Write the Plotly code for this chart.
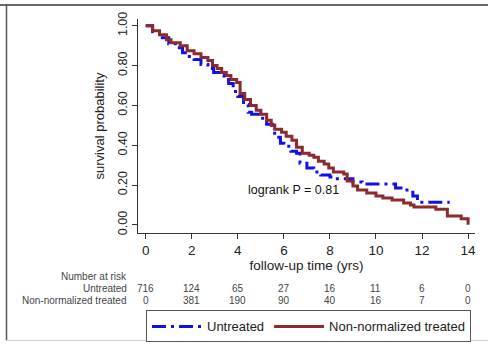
import plotly.graph_objects as go

# ---- data ----
untreated_t = [0, 0.3, 0.6, 1.0, 1.35, 1.6, 1.8, 2.1, 2.4, 2.7, 2.95, 3.2, 3.4, 3.6, 3.8, 4.0,
               4.25, 4.45, 4.6, 4.95, 5.25, 5.5, 5.6, 5.85, 6.0, 6.3, 6.55, 6.7, 7.0, 7.3,
               7.6, 8.0, 8.2, 8.75, 9.0, 9.4, 10.65, 10.85, 11.2, 11.6, 11.8, 13.2]
untreated_s = [1.0, 0.97, 0.94, 0.91, 0.89, 0.865, 0.845, 0.83, 0.805, 0.785, 0.765, 0.75, 0.73,
               0.71, 0.67, 0.645, 0.605, 0.565, 0.555, 0.535, 0.505, 0.50, 0.44, 0.41, 0.395,
               0.37, 0.36, 0.31, 0.285, 0.265, 0.25, 0.24, 0.232, 0.232, 0.215, 0.205, 0.205,
               0.185, 0.175, 0.145, 0.114, 0.114]

treated_t = [0, 0.3, 0.6, 0.9, 1.1, 1.5, 1.8, 2.1, 2.4, 2.7, 2.9, 3.1, 3.3, 3.5, 3.7, 3.95,
             4.1, 4.3, 4.55, 4.8, 5.0, 5.25, 5.45, 5.6, 5.9, 6.1, 6.35, 6.55, 6.8, 7.1, 7.3,
             7.5, 7.75, 7.95, 8.15, 8.6, 8.75, 9.0, 9.2, 9.6, 10.0, 10.3, 10.7, 11.2, 11.5,
             11.65, 12.6, 13.1, 13.7, 14.0]
treated_s = [1.0, 0.975, 0.955, 0.93, 0.915, 0.9, 0.875, 0.86, 0.84, 0.825, 0.80, 0.785, 0.765,
             0.75, 0.73, 0.715, 0.66, 0.63, 0.60, 0.575, 0.555, 0.525, 0.50, 0.48, 0.465, 0.445,
             0.425, 0.39, 0.36, 0.35, 0.34, 0.32, 0.305, 0.285, 0.265, 0.255, 0.22, 0.195,
             0.175, 0.16, 0.145, 0.135, 0.125, 0.11, 0.10, 0.09, 0.078, 0.045, 0.03, 0.0]

risk_times = [0, 2, 4, 6, 8, 10, 12, 14]
risk_untreated = [716, 124, 65, 27, 16, 11, 6, 0]
risk_treated = [0, 381, 190, 90, 40, 16, 7, 0]

x_ticks = [0, 2, 4, 6, 8, 10, 12, 14]
y_ticks = [0, 0.2, 0.4, 0.6, 0.8, 1.0]
y_ticklabels = ["0.00", "0.20", "0.40", "0.60", "0.80", "1.00"]

series_names = ["Untreated", "Non-normalized treated"]
pvalue_text = "logrank P = 0.81"

# ---- layout helpers (pixel -> paper) ----
L, R, T, B = 138, 13, 17, 116
W, H = 488, 354
PW, PH = W - L - R, H - T - B


def pxx(x):
    return (x - L) / PW


def pxy(y):
    return (H - B - y) / PH


FONT = "Liberation Sans, Arial, sans-serif"

fig = go.Figure()
fig.add_trace(go.Scatter(
    x=untreated_t, y=untreated_s, mode="lines", line_shape="hv", name=series_names[0],
    line=dict(color="#1010e8", width=3, dash="14px,5px,3px,5px")))
fig.add_trace(go.Scatter(
    x=treated_t, y=treated_s, mode="lines", line_shape="hv", name=series_names[1],
    line=dict(color="#8c2a2e", width=3)))

annotations = [
    dict(x=6.4, y=0.177, xref="x", yref="y", text=pvalue_text, showarrow=False,
         font=dict(size=12.5, color="#111", family=FONT)),
    dict(x=pxx(129), y=pxy(283), xref="paper", yref="paper", text="Number at risk",
         showarrow=False, xanchor="right", yanchor="middle",
         font=dict(size=10, color="#444", family=FONT)),
    dict(x=pxx(129), y=pxy(295), xref="paper", yref="paper", text=series_names[0],
         showarrow=False, xanchor="right", yanchor="middle",
         font=dict(size=10, color="#444", family=FONT)),
    dict(x=pxx(129), y=pxy(308), xref="paper", yref="paper", text=series_names[1],
         showarrow=False, xanchor="right", yanchor="middle",
         font=dict(size=10, color="#444", family=FONT)),
]
for t, a, b in zip(risk_times, risk_untreated, risk_treated):
    annotations.append(dict(x=t, y=pxy(295), xref="x", yref="paper", text=str(a),
                            showarrow=False, xanchor="center", yanchor="middle",
                            font=dict(size=10, color="#444", family=FONT)))
    annotations.append(dict(x=t, y=pxy(308), xref="x", yref="paper", text=str(b),
                            showarrow=False, xanchor="center", yanchor="middle",
                            font=dict(size=10, color="#444", family=FONT)))

shapes = [
    dict(type="line", xref="paper", yref="paper", x0=pxx(0), x1=pxx(W), y0=pxy(2.5), y1=pxy(2.5),
         line=dict(color="#6a6a6a", width=2)),
    dict(type="line", xref="paper", yref="paper", x0=pxx(6.5), x1=pxx(6.5), y0=pxy(2), y1=pxy(349),
         line=dict(color="#555", width=1.5)),
    dict(type="line", xref="paper", yref="paper", x0=pxx(6), x1=pxx(W), y0=pxy(349), y1=pxy(349),
         line=dict(color="#d0d0d0", width=1)),
]

fig.update_layout(
    width=W, height=H, autosize=False,
    margin=dict(l=L, r=R, t=T, b=B, pad=0),
    paper_bgcolor="white", plot_bgcolor="white",
    font=dict(family=FONT, color="#222"),
    annotations=annotations, shapes=shapes,
    legend=dict(orientation="h", x=pxx(146), y=pxy(318), xanchor="left", yanchor="top",
                bordercolor="#555", borderwidth=1, font=dict(size=13, color="#222", family=FONT),
                itemwidth=50, tracegroupgap=0, bgcolor="white"),
    showlegend=True,
)
fig.update_xaxes(
    range=[-0.335, 14.3], tickvals=x_ticks, showgrid=False, zeroline=False,
    showline=True, linecolor="#333", linewidth=1, ticks="outside", ticklen=5, tickcolor="#333",
    tickfont=dict(size=13.5, color="#222"),
    title=dict(text="follow-up time (yrs)", font=dict(size=13.5, color="#222"), standoff=3),
)
fig.update_yaxes(
    range=[-0.041, 1.034], tickvals=y_ticks, ticktext=y_ticklabels, tickangle=-90,
    showgrid=False, zeroline=False,
    showline=True, linecolor="#333", linewidth=1, ticks="outside", ticklen=5, tickcolor="#333",
    tickfont=dict(size=12.5, color="#222"),
    title=dict(text="survival probability", font=dict(size=13, color="#222"), standoff=8),
)

fig.write_html("out.html")
